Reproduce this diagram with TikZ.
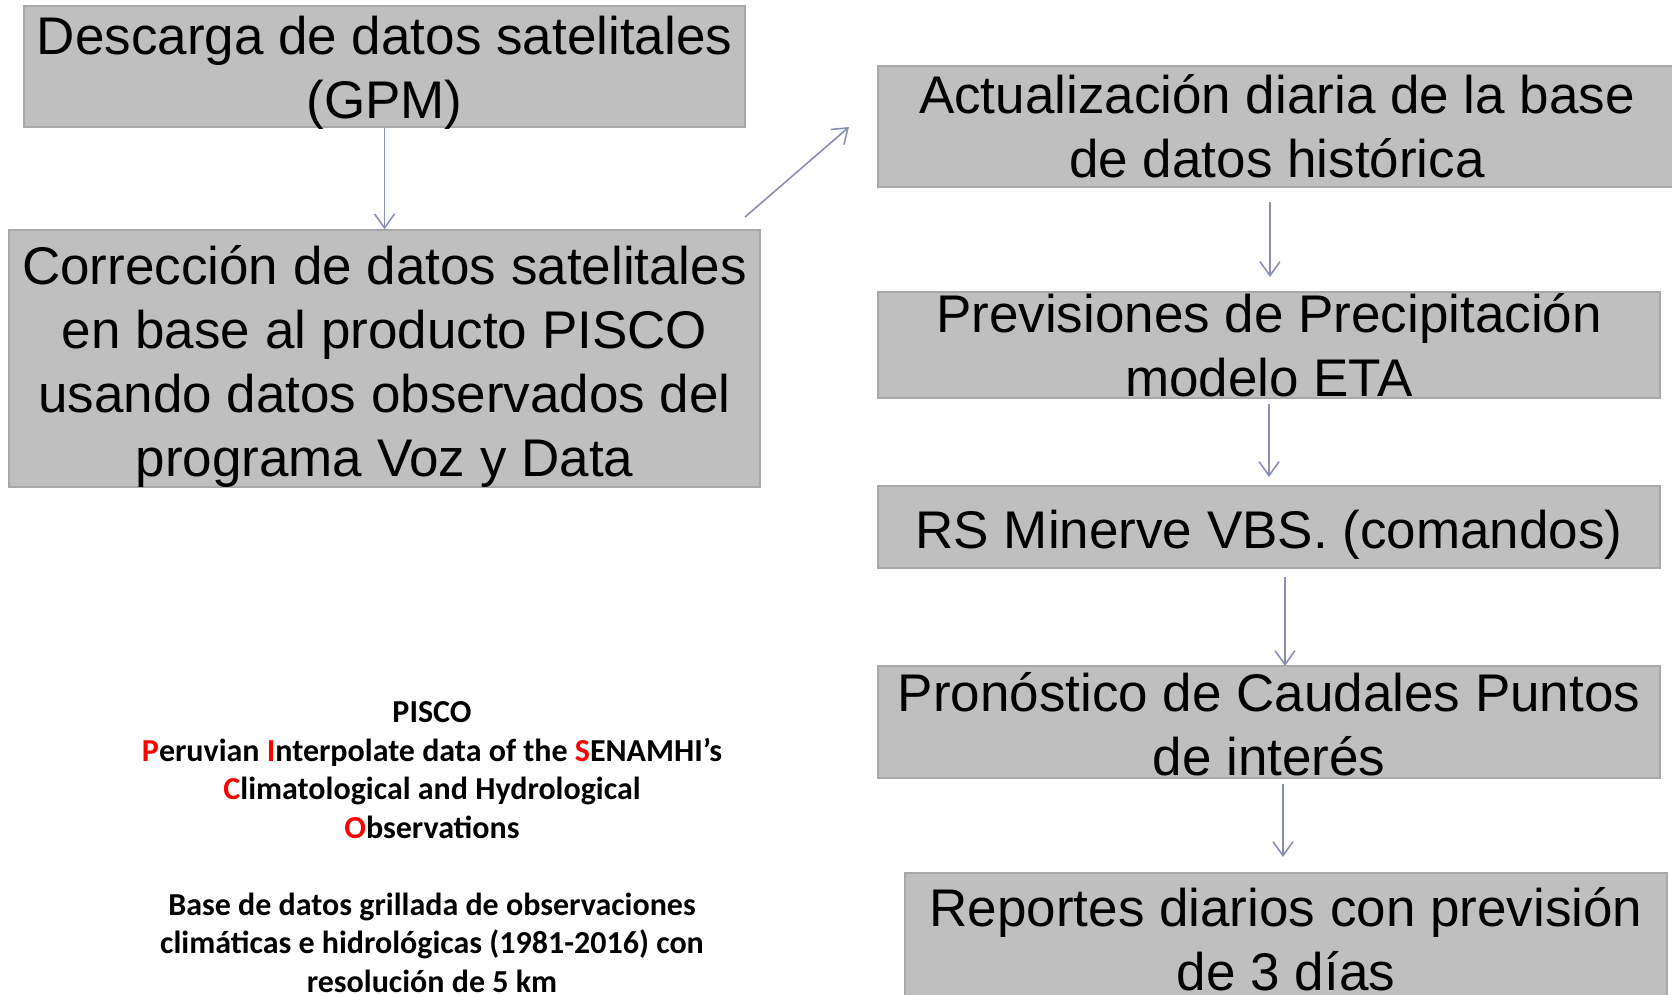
\documentclass[tikz,border=0pt]{standalone}
\usepackage{fontspec}
\setmainfont{Liberation Sans}
\newfontfamily\calfont{Carlito}
\usetikzlibrary{arrows.meta}
\definecolor{boxfill}{HTML}{BFBFBF}
\definecolor{boxline}{HTML}{A8A8A8}
\definecolor{arrowc}{HTML}{8A90B4}
\definecolor{piscored}{HTML}{FF0000}
\tikzset{
  stepbox/.style={draw=boxline, line width=1.5pt, fill=boxfill, inner sep=0pt},
  boxtext/.style={inner sep=0pt, align=center, font=\fontsize{53}{64}\selectfont, text=black},
  arr/.style={draw=arrowc, line width=1.6pt, -{Straight Barb[length=14pt,width=20pt,line width=1.6pt]}},
}
\newcommand{\rd}[1]{\textcolor{piscored}{#1}}
\begin{document}
\begin{tikzpicture}[x=1pt,y=-1pt]
\useasboundingbox (0,0) rectangle (1672,995);
\clip (0,0) rectangle (1672,995);
\fill[white] (0,0) rectangle (1672,995);
% boxes
\node[stepbox, minimum width=721pt, minimum height=121pt] (b1) at (384.5,66.5) {};
\node[stepbox, minimum width=751pt, minimum height=257pt] (b2) at (384.5,358.5) {};
\node[stepbox, minimum width=798pt, minimum height=121pt] (b3) at (1277,126.5) {};
\node[stepbox, minimum width=782pt, minimum height=106pt] (b4) at (1269,345) {};
\node[stepbox, minimum width=782pt, minimum height=82pt] (b5) at (1269,527) {};
\node[stepbox, minimum width=782pt, minimum height=112pt] (b6) at (1269,722) {};
\node[stepbox, minimum width=762pt, minimum height=132pt] (b7) at (1286,939) {};
% box texts
\node[boxtext] (t1) at ([yshift=-6pt]b1.center) {Descarga de datos satelitales\\(GPM)};
\node[boxtext] (t2) at ([yshift=-7.5pt]b2.center)
  {Corrección de datos satelitales\\en base al producto PISCO\\usando datos observados del\\programa Voz y Data};
\node[boxtext] (t3) at (b3.center) {Actualización diaria de la base\\de datos histórica};
\node[boxtext] (t4) at (b4.center) {Previsiones de Precipitación\\modelo ETA};
\node[boxtext] (t5) at ([yshift=-7.5pt]b5.center) {RS Minerve VBS. (comandos)};
\node[boxtext] (t6) at ([yshift=-2pt]b6.center) {Pronóstico de Caudales Puntos\\de interés};
\node[boxtext] (t7) at (b7.center) {Reportes diarios con previsión\\de 3 días};
% PISCO text
\node[align=center, font=\calfont\bfseries\fontsize{32}{38.5}\selectfont, inner sep=0pt] (pisco) at (432,847)
  {PISCO\\
   \rd{P}eruvian \rd{I}nterpolate data of the \rd{S}ENAMHI’s\\
   \rd{C}limatological and Hydrological\\
   \rd{O}bservations\\[38.5pt]
   Base de datos grillada de observaciones\\
   climáticas e hidrológicas (1981-2016) con\\
   resolución de 5 km};
% arrow end points
\coordinate (d1) at (745,217);
\coordinate (d2) at (849,127);
\coordinate (a2s) at (1270,202);
\coordinate (a2e) at (1270,277);
\coordinate (a3s) at (1269,404);
\coordinate (a3e) at (1269,477);
\coordinate (a4s) at (1285,577);
\coordinate (a4e) at (1285,666);
\coordinate (a5s) at (1283,784);
\coordinate (a5e) at (1283,857);
% connectors
\draw[arr] (b1.south) -- (b2.north);
\draw[arr] (d1) -- (d2);
\draw[arr] (a2s) -- (a2e);
\draw[arr] (a3s) -- (a3e);
\draw[arr] (a4s) -- (a4e);
\draw[arr] (a5s) -- (a5e);
\end{tikzpicture}
\end{document}
